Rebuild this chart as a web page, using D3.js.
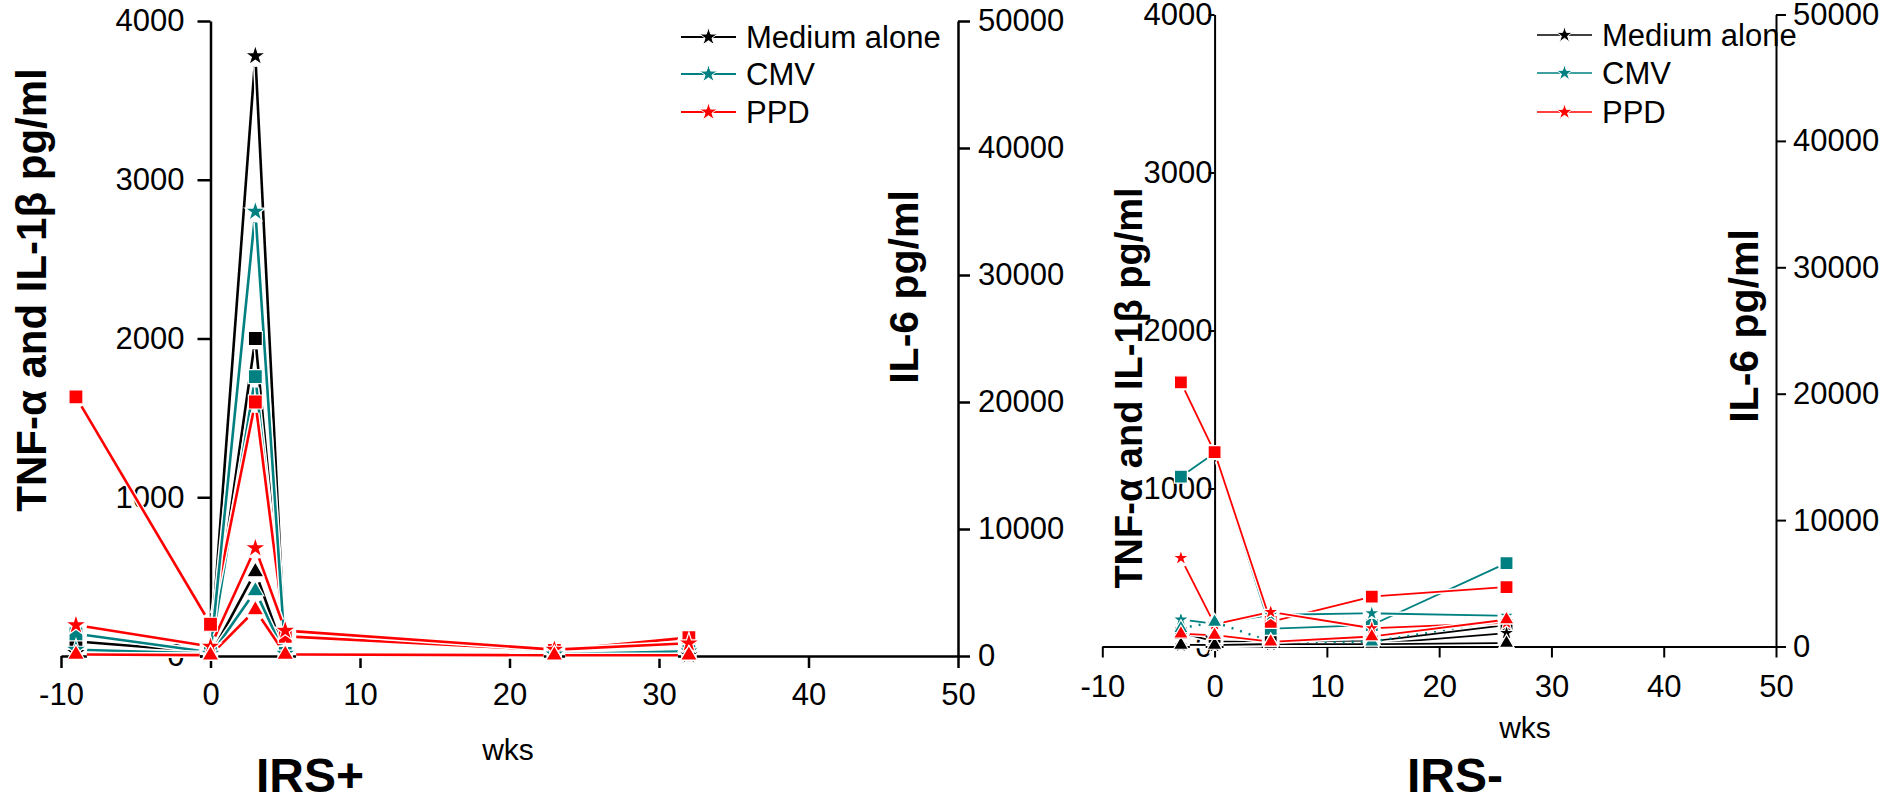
<!DOCTYPE html>
<html>
<head>
<meta charset="utf-8">
<script src="https://cdn.jsdelivr.net/npm/d3@7"></script>
<style>
  body { margin: 0; background: #fff; }
  svg { display: block; font-family: "Liberation Sans", Arial, sans-serif; }
</style>
</head>
<body>
<svg id="chart" width="1885" height="796"></svg>
<script>
// stimuli and their colours
const stimuli = ["Medium alone", "CMV", "PPD"];
const stimColors = ["#000000", "#008080", "#ff0000"];

// IRS+ panel (weeks relative to ART)
const plusWeeks = [-9, 0, 3, 5, 23, 32];
const plusTnfMedium = [20, 10, 3780, 10, 5, 5];
const plusTnfCmv = [40, 15, 2800, 15, 10, 30];
const plusTnfPpd = [195, 60, 680, 160, 40, 80];
const plusIl1Medium = [5, 5, 530, 5, 2, 2];
const plusIl1Cmv = [5, 5, 410, 5, 2, 2];
const plusIl1Ppd = [10, 5, 290, 10, 5, 5];
const plusIl6Medium = [1150, 300, 25000, 200, 100, 100];
const plusIl6Cmv = [1750, 300, 22000, 200, 150, 400];
const plusIl6Ppd = [20400, 2500, 20000, 1550, 450, 1450];

// IRS- panel
const minusWeeks = [-3, 0, 5, 14, 26];
const minusTnfMedium = [5, 3, 10, 15, 85];
const minusTnfCmv = [170, 145, 200, 210, 195];
const minusTnfPpd = [560, 140, 218, 116, 150];
const minusIl1Medium = [10, 10, 15, 15, 22];
const minusIl1Cmv = [115, 155, 30, 30, 170];
const minusIl1Ppd = [80, 72, 30, 63, 170];
const minusIl6Medium = [1080, 400, 350, 400, 1700];
const minusIl6Cmv = [13440, 15300, 1400, 1700, 6600];
const minusIl6Ppd = [20900, 15370, 1950, 3950, 4700];

const xTicks = [-10, 0, 10, 20, 30, 40, 50];
const leftTicks = [0, 1000, 2000, 3000, 4000];
const rightTicks = [0, 10000, 20000, 30000, 40000, 50000];

const svg = d3.select("#chart");
const fmt = function(d) { return String(d); }; // plain hyphen for negatives

function buildSeries(tnf, il1, il6) {
  // il6 goes on the right axis, TNF + IL-1b on the left one
  var out = [];
  il6.forEach(function(v, i) { out.push({stim: i, shape: "square", axis: "R", values: v}); });
  tnf.forEach(function(v, i) { out.push({stim: i, shape: "star", axis: "L", values: v}); });
  il1.forEach(function(v, i) { out.push({stim: i, shape: "triangle", axis: "L", values: v}); });
  return out;
}

function shorten(pts, g) {
  var segs = [];
  for (var i = 0; i < pts.length - 1; i++) {
    var p = pts[i], q = pts[i + 1];
    var dx = q[0] - p[0], dy = q[1] - p[1];
    var len = Math.sqrt(dx * dx + dy * dy);
    if (len <= 2 * g + 1) continue;
    var ux = dx / len, uy = dy / len;
    segs.push([[p[0] + ux * g, p[1] + uy * g], [q[0] - ux * g, q[1] - uy * g]]);
  }
  return segs;
}

function markerPath(shape, c) {
  if (shape == "star") return d3.symbol(d3.symbolStar, c.starR * c.starR / 0.8908130915292852)();
  if (shape == "square") return d3.symbol(d3.symbolSquare, c.sq * c.sq)();
  return d3.symbol(d3.symbolTriangle, Math.sqrt(3) / 4 * c.tri * c.tri)();
}

function drawPanel(c) {
  var x = d3.scaleLinear().domain([-10, 50]).range([c.x0, c.x1]);
  var yL = d3.scaleLinear().domain([0, 4000]).range([c.yBot, c.yTop]);
  var yR = d3.scaleLinear().domain([0, 50000]).range([c.yBot, c.yTop]);
  var g = svg.append("g");

  // axes (left y axis sits on week 0)
  var ax = g.append("g").attr("transform", "translate(0," + c.yBot + ")");
  ax.call(d3.axisBottom(x).tickValues(d3.range(-5, 50, 10)).tickSize(c.minorX).tickFormat("").tickSizeOuter(0));
  ax.call(d3.axisBottom(x).tickValues(xTicks).tickSize(c.majorX).tickFormat(fmt).tickSizeOuter(0));
  ax.selectAll("text").attr("dy", "0").attr("y", c.xLabelY).style("font-size", "31px");

  var al = g.append("g").attr("transform", "translate(" + x(0) + ",0)");
  al.call(d3.axisLeft(yL).tickValues(d3.range(500, 4000, 1000)).tickSize(c.minorY).tickFormat("").tickSizeOuter(0));
  al.call(d3.axisLeft(yL).tickValues(leftTicks).tickSize(c.majorY).tickPadding(c.padL).tickFormat(fmt).tickSizeOuter(0));
  al.selectAll("text").style("font-size", "31px");

  var ar = g.append("g").attr("transform", "translate(" + c.x1 + ",0)");
  ar.call(d3.axisRight(yR).tickValues(d3.range(5000, 50000, 10000)).tickSize(c.minorY).tickFormat("").tickSizeOuter(0));
  ar.call(d3.axisRight(yR).tickValues(rightTicks).tickSize(c.majorR).tickPadding(c.padR).tickFormat(fmt).tickSizeOuter(0));
  ar.selectAll("text").style("font-size", "31px");

  g.selectAll(".domain, .tick line").attr("stroke", "#000").attr("stroke-width", c.axisW);

  // lines with a little gap at each marker
  var series = c.series;
  series.forEach(function(s) {
    var yy = s.axis == "R" ? yR : yL;
    var pts = s.values.map(function(v, i) { return [x(c.weeks[i]), yy(v)]; });
    s.pts = pts;
    var segs = shorten(pts, c.gap);
    var dotted = c.dotted && c.dotted(s);
    segs.forEach(function(sg) {
      if (!dotted) {
        g.append("line").attr("x1", sg[0][0]).attr("y1", sg[0][1]).attr("x2", sg[1][0]).attr("y2", sg[1][1])
          .attr("stroke", "#fff").attr("stroke-width", c.lw + 3);
      }
      g.append("line").attr("x1", sg[0][0]).attr("y1", sg[0][1]).attr("x2", sg[1][0]).attr("y2", sg[1][1])
        .attr("stroke", stimColors[s.stim]).attr("stroke-width", dotted ? c.lw + 0.6 : c.lw)
        .attr("stroke-dasharray", dotted ? "2,7" : null);
    });
  });
  series.forEach(function(s) {
    g.selectAll(null).data(s.pts).enter().append("path")
      .attr("d", markerPath(s.shape, c))
      .attr("transform", function(p) { return "translate(" + p[0] + "," + p[1] + ")"; })
      .attr("fill", stimColors[s.stim])
      .attr("stroke", "#fff").attr("stroke-width", 1.2);
  });

  // legend
  stimuli.forEach(function(name, i) {
    var ly = c.legY[i];
    g.append("line").attr("x1", c.legX).attr("x2", c.legX + c.legLen).attr("y1", ly).attr("y2", ly)
      .attr("stroke", stimColors[i]).attr("stroke-width", c.legW);
    g.append("path").attr("d", d3.symbol(d3.symbolStar, c.legStar * c.legStar / 0.8908)())
      .attr("transform", "translate(" + (c.legX + c.legLen / 2) + "," + ly + ")")
      .attr("fill", stimColors[i]).attr("stroke", "#fff").attr("stroke-width", 1);
    g.append("text").attr("x", c.legX + c.legLen + 10).attr("y", ly + 11)
      .style("font-size", "31px").text(name);
  });

  // titles
  g.append("text").attr("transform", "translate(" + c.titleLX + "," + c.titleLY + ") rotate(-90)")
    .attr("text-anchor", "middle").style("font-size", c.titleSize + "px").style("font-weight", "bold")
    .text("TNF-\u03b1 and IL-1\u03b2 pg/ml");
  g.append("text").attr("transform", "translate(" + c.titleRX + "," + c.titleRY + ") rotate(-90)")
    .attr("text-anchor", "middle").style("font-size", "41px").style("font-weight", "bold")
    .text("IL-6 pg/ml");
  g.append("text").attr("x", c.wksX).attr("y", c.wksY).attr("text-anchor", "middle")
    .style("font-size", "30px").text("wks");
  g.append("text").attr("x", c.panelX).attr("y", 792).attr("text-anchor", "middle")
    .style("font-size", "48px").style("font-weight", "bold").text(c.panel);
}

drawPanel({
  panel: "IRS+", panelX: 310,
  weeks: plusWeeks,
  series: buildSeries([plusTnfMedium, plusTnfCmv, plusTnfPpd],
                      [plusIl1Medium, plusIl1Cmv, plusIl1Ppd],
                      [plusIl6Medium, plusIl6Cmv, plusIl6Ppd]),
  x0: 61, x1: 958, yTop: 21, yBot: 656,
  majorX: 12, minorX: 7, xLabelY: 49,
  majorY: 13, minorY: 7, padL: 13, majorR: 12, padR: 8,
  axisW: 2.5, lw: 2.6, gap: 11,
  starR: 11, sq: 14, tri: 17,
  legX: 681, legLen: 55, legW: 2, legStar: 9.5, legY: [37, 74, 112],
  titleLX: 46, titleLY: 290, titleSize: 42,
  titleRX: 918, titleRY: 287,
  wksX: 508, wksY: 760
});

drawPanel({
  panel: "IRS-", panelX: 1455,
  weeks: minusWeeks,
  series: buildSeries([minusTnfMedium, minusTnfCmv, minusTnfPpd],
                      [minusIl1Medium, minusIl1Cmv, minusIl1Ppd],
                      [minusIl6Medium, minusIl6Cmv, minusIl6Ppd]),
  dotted: function(s) { return s.shape == "triangle" && s.stim == 1; },
  x0: 1102.3, x1: 1776, yTop: 14.5, yBot: 646.5,
  majorX: 11, minorX: 6, xLabelY: 50.5,
  majorY: 6, minorY: 6, padL: -4, majorR: 10, padR: 7,
  axisW: 2, lw: 1.8, gap: 9,
  starR: 8.5, sq: 13, tri: 15,
  legX: 1537, legLen: 55, legW: 1.6, legStar: 8.5, legY: [35, 73, 112],
  titleLX: 1142, titleLY: 388, titleSize: 38,
  titleRX: 1758, titleRY: 326,
  wksX: 1525, wksY: 738
});
</script>
</body>
</html>
